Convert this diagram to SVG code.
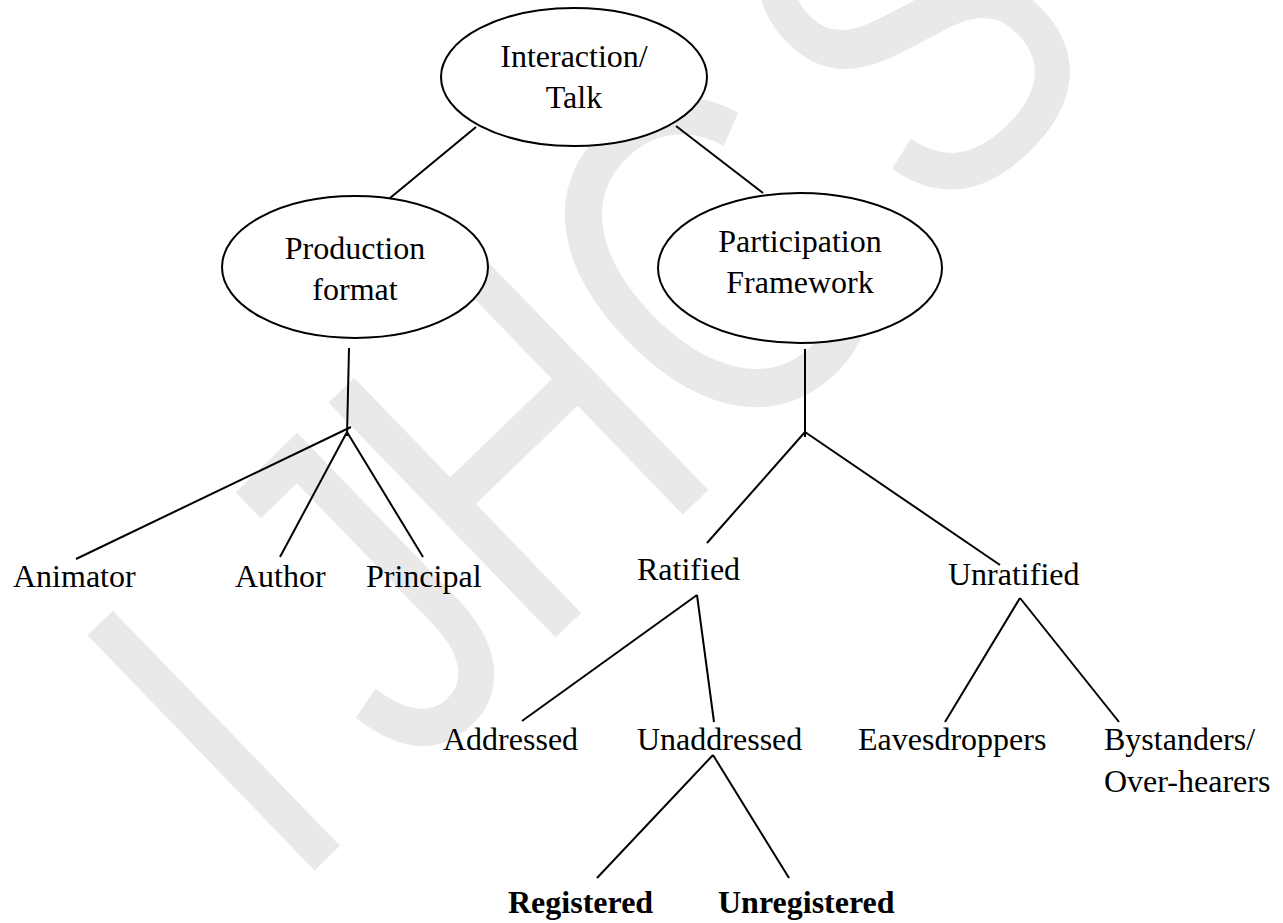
<svg xmlns="http://www.w3.org/2000/svg" width="1283" height="923" viewBox="0 0 1283 923">
  <style>
    .lbl { font-family: "Liberation Serif", "Times New Roman", serif; font-size: 32px; fill: #000; }
    .mid { text-anchor: middle; }
    .bold { font-weight: bold; }
    .oval { fill: #fff; stroke: #000; stroke-width: 2; }
    .edge { stroke: #000; stroke-width: 2; fill: none; stroke-linecap: butt; }
    .mark { font-family: "Liberation Sans", Arial, sans-serif; font-size: 475px; fill: #e9e9e9; }
  </style>
  <rect width="1283" height="923" fill="#fff"/>

  <!-- background watermark, set along a tilted baseline -->
  <g id="watermark" transform="translate(318,867) rotate(-44) scale(0.8,1)">
    <text class="mark" x="-50 156 374" y="0">IJH</text>
    <text class="mark" x="711" y="0">C</text>
    <text class="mark" x="1101" y="-25">S</text>
  </g>

  <!-- connectors -->
  <g id="connectors">
    <line class="edge" x1="476" y1="127" x2="384" y2="203"/>
    <line class="edge" x1="676" y1="126" x2="763" y2="193"/>

    <line class="edge" x1="349" y1="348" x2="347" y2="436"/>
    <line class="edge" x1="351" y1="427" x2="76" y2="559"/>
    <line class="edge" x1="347" y1="432" x2="280" y2="557"/>
    <line class="edge" x1="347" y1="432" x2="423" y2="557"/>

    <line class="edge" x1="805" y1="349" x2="805" y2="437"/>
    <line class="edge" x1="805" y1="432" x2="707" y2="543"/>
    <line class="edge" x1="805" y1="432" x2="1000" y2="565"/>

    <line class="edge" x1="697" y1="595" x2="522" y2="721"/>
    <line class="edge" x1="697" y1="595" x2="714" y2="722"/>

    <line class="edge" x1="1020" y1="598" x2="945" y2="722"/>
    <line class="edge" x1="1020" y1="598" x2="1119" y2="722"/>

    <line class="edge" x1="713" y1="755" x2="597" y2="878"/>
    <line class="edge" x1="713" y1="755" x2="789" y2="878"/>
  </g>

  <!-- nodes -->
  <g id="node-interaction">
    <ellipse class="oval" cx="574" cy="77" rx="133" ry="69"/>
    <text class="lbl mid" x="574" y="67">Interaction/</text>
    <text class="lbl mid" x="574" y="108">Talk</text>
  </g>

  <g id="node-production">
    <ellipse class="oval" cx="355" cy="267" rx="133" ry="71"/>
    <text class="lbl mid" x="355" y="259">Production</text>
    <text class="lbl mid" x="355" y="300">format</text>
  </g>

  <g id="node-participation">
    <ellipse class="oval" cx="800" cy="268" rx="142" ry="75"/>
    <text class="lbl mid" x="800" y="252">Participation</text>
    <text class="lbl mid" x="800" y="293">Framework</text>
  </g>

  <g id="node-animator"><text class="lbl" x="13" y="587">Animator</text></g>
  <g id="node-author"><text class="lbl" x="235" y="587">Author</text></g>
  <g id="node-principal"><text class="lbl" x="366" y="587">Principal</text></g>

  <g id="node-ratified"><text class="lbl" x="637" y="580">Ratified</text></g>
  <g id="node-unratified"><text class="lbl" x="948" y="585">Unratified</text></g>

  <g id="node-addressed"><text class="lbl" x="443" y="750">Addressed</text></g>
  <g id="node-unaddressed"><text class="lbl" x="637" y="750">Unaddressed</text></g>
  <g id="node-eavesdroppers"><text class="lbl" x="858" y="750">Eavesdroppers</text></g>
  <g id="node-bystanders">
    <text class="lbl" x="1104" y="750">Bystanders/</text>
    <text class="lbl" x="1104" y="792">Over-hearers</text>
  </g>

  <g id="node-registered"><text class="lbl bold" x="508" y="913">Registered</text></g>
  <g id="node-unregistered"><text class="lbl bold" x="718" y="913">Unregistered</text></g>
</svg>
